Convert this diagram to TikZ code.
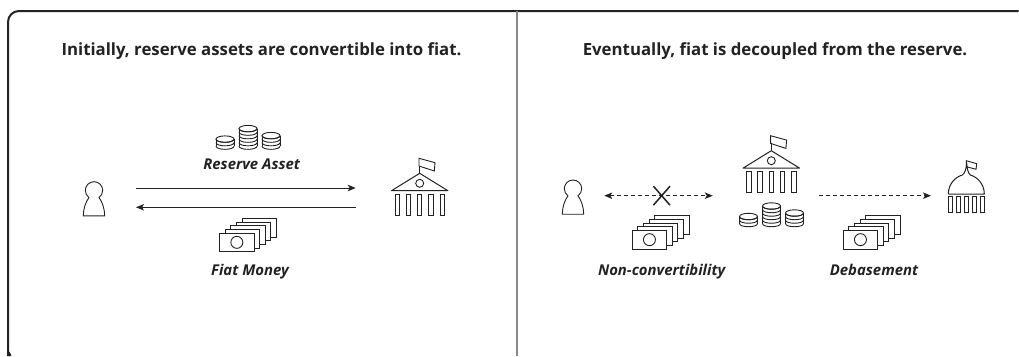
\documentclass[tikz,border=0pt]{standalone}
\usepackage{fontspec}
\setmainfont{Open Sans}
\usepackage{tikz}
\usetikzlibrary{arrows.meta}
\usetikzlibrary{positioning}

\definecolor{ink}{HTML}{222222}
\definecolor{divider}{HTML}{888888}

\tikzset{
  icon/.style={inner sep=0pt,outer sep=0pt,minimum size=0pt},
  heading/.style={inner sep=0pt,text height=12.5pt,text depth=3.5pt,font=\fontsize{16.8}{20}\selectfont\bfseries,text=ink},
  caption/.style={inner sep=0pt,text height=11pt,text depth=3pt,font=\fontsize{14.9}{18}\selectfont\bfseries\itshape,text=ink},
  pics/person/.style={code={
    \draw[ink,line width=0.9pt] (-5,7.1) .. controls (-7.2,5.6) and (-8.7,3) .. (-8.7,0)
      .. controls (-8.7,-4.8) and (-4.8,-8.7) .. (0,-8.7)
      .. controls (4.8,-8.7) and (8.7,-4.8) .. (8.7,0)
      .. controls (8.7,3) and (7.2,5.6) .. (5,7.1)
      .. controls (8,11) and (10.7,18) .. (10.7,25.5) -- (-10.7,25.5)
      .. controls (-10.7,18) and (-8,11) .. (-5,7.1);
  }},
  pics/bank/.style={code={
    \draw[ink,line width=1pt,line join=round] (-28.2,17.4) -- (0,0) -- (28.2,17.4) -- cycle;
    \draw[ink,line width=0.9pt] (0,10) circle (4);
    \draw[ink,line width=0.9pt] (0,0) -- (0,-7.3);
    \draw[ink,line width=0.9pt] (-0.7,-15) -- (15.3,-10.6) -- (14.6,-2.3) -- (-0.7,-7.3) -- cycle;
    \foreach \c in {-22.5,-11.25,0,11.25,22.5}
      \draw[ink,line width=0.9pt] ({\c-2.2},20.7) rectangle ({\c+2.2},42);
  }},
  pics/capitol/.style={code={
    \draw[ink,line width=1pt,line join=round] (-18,0) -- (18,0)
      .. controls (18,-10) and (11,-17) .. (4,-19)
      .. controls (1.5,-21) and (0.8,-26) .. (0.4,-31)
      .. controls (0,-26) and (-1,-21) .. (-4,-19)
      .. controls (-11,-17) and (-18,-10) .. (-18,0);
    \draw[ink,line width=0.9pt] (0,-33.3) -- (10.4,-30.3) -- (9.7,-24.7) -- (0,-27.3) -- cycle;
    \foreach \c in {-16,-8,0,8,16}
      \draw[ink,line width=0.9pt] ({\c-2},2) rectangle ({\c+2},18);
  }},
  pics/coinstack/.style={code={
    \draw[ink,line width=0.9pt] (0,{-3.2-#1*3.5}) ellipse [x radius=9,y radius=3.2];
    \draw[ink,line width=0.9pt] (-9,{-3.2-#1*3.5}) -- (-9,-3.2) (9,{-3.2-#1*3.5}) -- (9,-3.2);
    \foreach \i in {0,...,#1}
      \draw[ink,line width=0.9pt] (-9,{-3.2-\i*3.5}) .. controls (-9,{1.1-\i*3.5}) and (9,{1.1-\i*3.5}) .. (9,{-3.2-\i*3.5});
  }},
  pics/coins/.style={code={
    \pic at (-23,0) {coinstack=2};
    \pic at (0,0) {coinstack=5};
    \pic at (23,0) {coinstack=3};
  }},
  pics/notes/.style={code={
    \foreach \k in {4,3,2,1,0}
      \draw[ink,line width=0.9pt,fill=white] ({-28.3+\k*5.6},{-2.35-\k*3.6}) rectangle +(34.3,18.7);
    \draw[ink,line width=0.9pt] (-11.15,7) circle (6);
  }},
}

\begin{document}
\begin{tikzpicture}[x=1pt,y=-1pt,>={Stealth[length=8pt,width=6.5pt,inset=2pt]},node distance=30pt]
\useasboundingbox (0,0) rectangle (1019,356);

\draw[ink,line width=2pt,rounded corners=11pt] (1018.5,11) -- (8,11) -- (8,345)
  [rounded corners=0pt] .. controls (8,350) and (9,353) .. (10.5,356);
\draw[divider,line width=1.5pt] (517,11) -- (517,356);

\node[heading] (title1) at (261.5,51) {Initially, reserve assets are convertible into fiat.};
\node[heading] (title2) [right of = title1, node distance=513.5pt] {Eventually, fiat is decoupled from the reserve.};

\node[icon,minimum width=21.4pt] (user1) at (94,197.65) {};
\node[icon,minimum width=56.4pt] (bank1) [right of = user1, node distance=325.7pt] {};
\node[icon,minimum width=64pt] (coins1) at (248,149.3) {};
\node[icon,minimum width=56.6pt] (notes1) at (248,235.35) {};

\node[icon,minimum width=21.4pt] (user2) at (573,195.7) {};
\node[icon,minimum width=56.4pt] (bank2) [right of = user2, node distance=198.5pt] {};
\node[icon,minimum width=36pt] (capitol) [right of = bank2, node distance=194.8pt] {};
\node[icon,minimum width=64pt] (coins2) at (771.5,226.7) {};
\node[icon,minimum width=56.6pt] (notes2) at (660.6,232.65) {};
\node[icon,minimum width=56.6pt] (notes3) [right of = notes2, node distance=211pt] {};
\node[icon] (cross) at (661.7,195.7) {};

\pic at (94,190.4) {person};
\pic at (419.7,173.3) {bank};
\pic at (coins1) {coins};
\pic at (notes1) {notes};

\pic at (573,188.7) {person};
\pic at (771.3,150.7) {bank};
\pic at (966.3,194) {capitol};
\pic at (coins2) {coins};
\pic at (notes2) {notes};
\pic at (notes3) {notes};

\node[caption] (reserve) at (251.7,165.3) {Reserve Asset};
\node[caption] (fiat) [below of = notes1, node distance=36.1pt, xshift=2pt] {Fiat Money};
\node[caption] (nonconv) [below of = notes2, node distance=38.8pt, xshift=1.1pt] {Non-convertibility};
\node[caption] (debase) [below of = notes3, node distance=38.8pt, xshift=2.4pt] {Debasement};

\draw[->,ink,line width=1pt,shorten <=31.3pt,shorten >=35.8pt] ([yshift=9.65pt]user1.east) -- ([yshift=9.65pt]bank1.west);
\draw[<-,ink,line width=1pt,shorten <=31.3pt,shorten >=35.8pt] ([yshift=-9.65pt]user1.east) -- ([yshift=-9.65pt]bank1.west);

\draw[<->,ink,line width=1pt,dash pattern=on 4pt off 3pt,shorten <=20.6pt,shorten >=30.5pt] (user2.east) -- (bank2.west);
\draw[->,ink,line width=1pt,dash pattern=on 4pt off 3pt,shorten <=19.7pt,shorten >=17.3pt] (bank2.east) -- (capitol.west);

\draw[ink,line width=1.5pt] ([shift={(-8.3,-9.5)}]cross.center) -- ([shift={(8.3,9.5)}]cross.center);
\draw[ink,line width=1.5pt] ([shift={(8.3,-9.5)}]cross.center) -- ([shift={(-8.3,9.5)}]cross.center);
\end{tikzpicture}
\end{document}
